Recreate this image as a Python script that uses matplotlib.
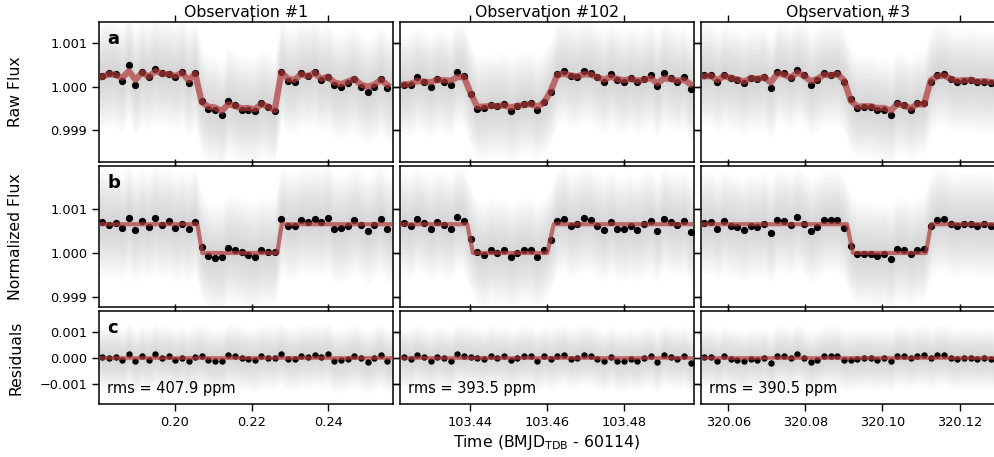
import numpy as np
import matplotlib
matplotlib.use("Agg")
from matplotlib import pyplot as plt
from matplotlib.ticker import FuncFormatter

# ---------------------------------- DATA ----------------------------------

obs_names = ["Observation #1", "Observation #102", "Observation #3"]
rms_ppm = [407.9, 393.5, 390.5]

# first bin centre of each visit (BMJD_TDB - 60114) and the bin width, days
bin_start = [0.18104, 103.42283, 320.0537]
bin_width = 0.00173
n_bins = 44

x_limits = [(0.18017, 0.25688), (103.4218, 103.4981), (320.0529, 320.1292)]
x_ticks = [[0.20, 0.22, 0.24], [103.44, 103.46, 103.48], [320.06, 320.08, 320.10, 320.12]]

# eclipse contact points t1..t4 for each visit
contacts = [
    (0.20582, 0.20712, 0.22669, 0.22784),
    (103.43925, 103.44073, 103.46003, 103.46169),
    (320.09079, 320.09235, 320.11129, 320.11259),
]
eclipse_depth_ppm = 660

# binned raw flux, ppm relative to 1
raw_flux_1 = [249, 311, 295, 140, 505, 40, 350, 218, 404, 311, 295, 233, 350, 94, 311,
              -325, -503, -542, -658, -325, -426, -526, -526, -557, -371, -464, -557,
              350, 140, 117, 311, 249, 350, 156, 233, 40, -15, 94, 171, -15, -116, 0, 171, -38]
raw_flux_102 = [40, 40, 218, 117, 0, 171, 117, 40, 334, 257,
                -170, -503, -488, -426, -449, -387, -557, -441, -387, -364, -542, -348, -131,
                295, 373, 249, 233, 373, 326, 218, 102, 288, 156, 102, 195, 102, 171, 272,
                16, 311, 210, 117, 218, -61]
raw_flux_3 = [272, 272, 117, 272, 195, 156, 78, 195, 171, 233, -38, 350, 311, 195, 388,
              272, 40, 156, 311, 272, 326, 117,
              -294, -488, -464, -464, -526, -526, -643, -371, -426, -526, -371, -371,
              117, 272, 295, 171, 117, 140, 156, 102, 117, 94]

# full systematics + eclipse model on the raw flux, ppm relative to 1
raw_model_1 = [230, 290, 270, 210, 360, 160, 330, 230, 360, 300, 290, 250, 320, 150, 300,
               -360, -460, -480, -560, -400, -440, -500, -490, -520, -400, -460, -540,
               330, 180, 160, 290, 240, 320, 180, 230, 100, 60, 120, 180, 50, 0, 50, 160, 40]
raw_model_102 = [50, 70, 130, 120, 100, 160, 150, 140, 220, 230,
                 -150, -460, -460, -440, -450, -430, -480, -440, -420, -400, -460, -370, -100,
                 270, 300, 260, 240, 290, 280, 220, 160, 230, 180, 150, 180, 140, 160, 200,
                 80, 190, 180, 140, 160, 60]
raw_model_3 = [240, 250, 150, 250, 200, 170, 120, 200, 180, 220, 100, 300, 280, 210, 330,
               250, 130, 180, 280, 260, 290, 150,
               -320, -460, -450, -450, -490, -490, -550, -400, -430, -500, -400, -410,
               150, 240, 260, 180, 140, 150, 160, 120, 130, 110]

# binned systematics-corrected flux, ppm relative to the in-eclipse level
norm_flux_1 = [702, 649, 687, 573, 802, 535, 725, 596, 802, 649, 725, 573, 672, 550, 710,
               138, -60, -114, -98, 115, 77, 16, -37, -91, 62, 16, 16,
               779, 626, 626, 748, 702, 779, 702, 802, 550, 573, 626, 748, 649, 496, 649, 779, 550]
norm_flux_102 = [687, 611, 779, 687, 550, 702, 649, 558, 817, 741,
                 321, 16, -53, 77, 1, 62, -91, 1, 62, 77, -98, 77, 291,
                 741, 786, 626, 672, 794, 748, 626, 535, 718, 558, 558, 626, 535, 672, 725,
                 496, 786, 710, 634, 725, 481]
norm_flux_3 = [687, 702, 550, 725, 626, 596, 535, 626, 596, 664, 458, 748, 725, 649, 824,
               664, 496, 588, 748, 748, 748, 573,
               169, -22, -14, -14, -60, -14, -129, 92, 77, -14, 77, 100,
               611, 763, 779, 664, 626, 664, 664, 626, 672, 626]

bin_err_ppm = 55

raw_flux = [raw_flux_1, raw_flux_102, raw_flux_3]
raw_model = [raw_model_1, raw_model_102, raw_model_3]
norm_flux = [norm_flux_1, norm_flux_102, norm_flux_3]

# ---------------------------------- PLOT ----------------------------------

RED = "#b03a3a"
haze_levels = [0.25, 0.5, 0.75, 1.0, 1.25, 1.5, 1.75, 2.0, 2.25, 2.5, 2.75, 3.0]


def draw_haze(ax, t, centre, sigma, x0, x1):
    # faint envelope standing in for the unbinned exposures, carried out to the axes edges
    tt = np.r_[x0, t, x1]
    cc = np.r_[centre[0], centre, centre[-1]]
    for k in haze_levels:
        ax.fill_between(tt, cc - k * sigma, cc + k * sigma,
                        color="0.3", alpha=0.02, lw=0, zorder=1)


def draw_bins(ax, t, y, ms=4.2):
    ax.errorbar(t, y, yerr=bin_err_ppm * 1e-6, fmt="o", ms=ms, color="k",
                ecolor="k", elinewidth=1.3, capsize=0, zorder=3)


fig = plt.figure(figsize=(9.94, 4.57), dpi=100)
gs = fig.add_gridspec(3, 3, height_ratios=[3, 3, 2], left=0.0996, right=1.001,
                      top=0.9525, bottom=0.1153, hspace=0.032, wspace=0.0238)
axes = np.array([[fig.add_subplot(gs[r, c]) for c in range(3)] for r in range(3)])

fmt3 = FuncFormatter(lambda v, _: f"{v:.3f}".replace("-", "\u2212"))
fmt2 = FuncFormatter(lambda v, _: f"{v:.2f}")

for c in range(3):
    t = bin_start[c] + bin_width * np.arange(n_bins)
    sigma = rms_ppm[c] * 1e-6
    t1, t2, t3, t4 = contacts[c]
    x0, x1 = x_limits[c]
    depth = eclipse_depth_ppm * 1e-6

    model_t = [x0, t1, t2, t3, t4, x1]
    model_f = np.array([1 + depth, 1 + depth, 1.0, 1.0, 1 + depth, 1 + depth])

    raw = 1 + np.array(raw_flux[c]) * 1e-6
    raw_mod = 1 + np.array(raw_model[c]) * 1e-6
    norm = 1 + np.array(norm_flux[c]) * 1e-6
    resid = norm - np.interp(t, model_t, model_f)

    # a: raw flux
    ax = axes[0, c]
    draw_haze(ax, t, raw, sigma, x0, x1)
    draw_bins(ax, t, raw)
    ax.plot(t, raw_mod, color=RED, lw=4.5, alpha=0.7, zorder=4, solid_joinstyle="round")
    ax.set_ylim(0.99826, 1.0015)
    ax.set_yticks([0.999, 1.000, 1.001])
    ax.set_title(obs_names[c], fontsize=11.3, pad=3.5)

    # b: normalized flux
    ax = axes[1, c]
    draw_haze(ax, t, norm, sigma, x0, x1)
    draw_bins(ax, t, norm)
    ax.plot(model_t, model_f, color=RED, lw=3, alpha=0.7, zorder=4)
    ax.set_ylim(0.99877, 1.00199)
    ax.set_yticks([0.999, 1.000, 1.001])

    # c: residuals
    ax = axes[2, c]
    draw_haze(ax, t, resid, sigma, x0, x1)
    draw_bins(ax, t, resid, ms=3.6)
    ax.axhline(0, color=RED, lw=2.6, alpha=0.7, zorder=4)
    ax.set_ylim(-0.0018, 0.00184)
    ax.set_yticks([-0.001, 0.0, 0.001])
    ax.annotate(f"rms = {rms_ppm[c]:.1f} ppm", xy=(0, 0), xycoords="axes fraction",
                xytext=(6, 8), textcoords="offset points", fontsize=10.5, va="baseline")

    for r in range(3):
        ax = axes[r, c]
        ax.set_xlim(x0, x1)
        ax.set_xticks(x_ticks[c])
        ax.xaxis.set_major_formatter(fmt2)
        ax.yaxis.set_major_formatter(fmt3)
        ax.tick_params(direction="out", length=5, width=1, labelsize=9.3,
                       top=True, right=True, labelbottom=(r == 2), labelleft=(c == 0))
        for s in ax.spines.values():
            s.set_linewidth(1.1)

for r, letter in enumerate("abc"):
    axes[r, 0].annotate(letter, xy=(0, 1), xycoords="axes fraction", xytext=(6, -16),
                        textcoords="offset points", fontsize=13, fontweight="bold",
                        va="baseline")

for r, label in enumerate(["Raw Flux", "Normalized Flux", "Residuals"]):
    axes[r, 0].set_ylabel(label, fontsize=11.3)
    axes[r, 0].yaxis.set_label_coords(-0.258, 0.5)

axes[2, 1].set_xlabel(r"Time (BMJD$_{\mathrm{TDB}}$ - 60114)", fontsize=11.3, labelpad=3)

fig.savefig("out.png", dpi=100)
